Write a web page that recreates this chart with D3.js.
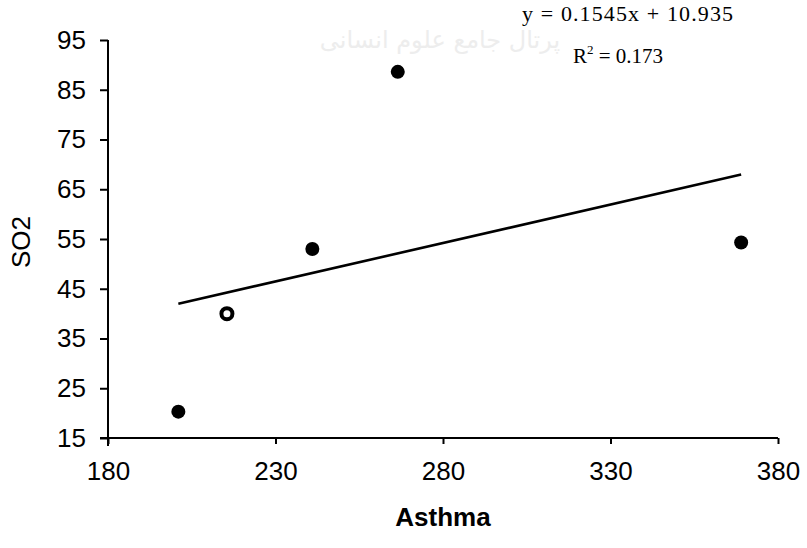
<!DOCTYPE html>
<html>
<head>
<meta charset="utf-8">
<script src="https://cdn.jsdelivr.net/npm/d3@7"></script>
<style>
  body { margin: 0; background: #fff; }
  svg { display: block; }
  .axis path, .axis line { stroke: #000; stroke-width: 2px; }
  .axis text { font-family: "Liberation Sans", Arial, sans-serif; font-size: 26px; fill: #000; }
</style>
</head>
<body>
<div id="chart"></div>
<script>
// values
var asthma = [201, 215.5, 241, 266.5, 369];
var so2    = [20.3, 40, 53, 88.6, 54.3];

var xTicks = [180, 230, 280, 330, 380];
var yTicks = [15, 25, 35, 45, 55, 65, 75, 85, 95];

// trend line as printed on the chart
var slope = 0.1545,
    intercept = 10.935,
    rSquared = "0.173";

var width = 807, height = 548;

var svg = d3.select("#chart").append("svg")
            .attr("width", width)
            .attr("height", height);

var xScale = d3.scaleLinear().domain([180, 380]).range([108, 778]);
var yScale = d3.scaleLinear().domain([15, 95]).range([438, 40]);

// faint watermark from the scanned page
svg.append("text")
   .attr("x", 440)
   .attr("y", 48)
   .attr("text-anchor", "middle")
   .attr("font-family", "DejaVu Sans")
   .attr("font-size", 24)
   .attr("fill", "#ededed")
   .attr("direction", "rtl")
   .text("پرتال جامع علوم انسانی");

var xAxis = d3.axisBottom(xScale)
              .tickValues(xTicks)
              .tickSize(6)
              .tickSizeOuter(0)
              .tickPadding(18)
              .tickFormat(d3.format("d"));
svg.append("g")
   .attr("class", "axis x-axis")
   .attr("transform", "translate(0," + yScale(15) + ")")
   .call(xAxis);

var yAxis = d3.axisLeft(yScale)
              .tickValues(yTicks)
              .tickSize(8)
              .tickSizeOuter(0)
              .tickPadding(14)
              .tickFormat(d3.format("d"));
svg.append("g")
   .attr("class", "axis y-axis")
   .attr("transform", "translate(" + xScale(180) + ",0)")
   .call(yAxis);

// let the axis lines run past each other at the origin, like the original
svg.select(".x-axis .domain").attr("d", "M" + (xScale(180) - 8) + ",0H" + xScale(380));
svg.select(".y-axis .domain").attr("d", "M0," + yScale(95) + "V" + (yScale(15) + 8));

// axis titles
svg.append("text")
   .attr("x", 443)
   .attr("y", 526)
   .attr("text-anchor", "middle")
   .attr("font-family", "Liberation Sans, Arial, sans-serif")
   .attr("font-size", 26)
   .attr("font-weight", "bold")
   .text("Asthma");

svg.append("text")
   .attr("transform", "translate(30,242) rotate(-90)")
   .attr("text-anchor", "middle")
   .attr("font-family", "Liberation Sans, Arial, sans-serif")
   .attr("font-size", 26)
   .text("SO2");

// trend line
var xMin = d3.min(asthma), xMax = d3.max(asthma);
svg.append("line")
   .attr("x1", xScale(xMin))
   .attr("y1", yScale(slope * xMin + intercept))
   .attr("x2", xScale(xMax))
   .attr("y2", yScale(slope * xMax + intercept))
   .attr("stroke", "#000")
   .attr("stroke-width", 2.6);

// points (the second one prints hollow in the scan)
var points = asthma.map(function(d, i) { return {x: d, y: so2[i], i: i}; });
svg.selectAll("circle.pt")
   .data(points)
   .enter().append("circle")
   .attr("class", "pt")
   .attr("cx", function(d) { return xScale(d.x); })
   .attr("cy", function(d) { return yScale(d.y); })
   .attr("r", function(d) { return d.i === 1 ? 5.5 : 7; })
   .attr("fill", function(d) { return d.i === 1 ? "#fff" : "#000"; })
   .attr("stroke", "#000")
   .attr("stroke-width", function(d) { return d.i === 1 ? 4 : 0; });

// equation label
var eq = svg.append("g")
            .attr("font-family", "Liberation Serif, Times New Roman, serif")
            .attr("fill", "#000");
eq.append("text")
  .attr("x", 522)
  .attr("y", 21)
  .attr("font-size", 22)
  .attr("textLength", 211)
  .attr("lengthAdjust", "spacing")
  .text("y = " + slope + "x + " + intercept);

var r2 = eq.append("text")
           .attr("x", 573)
           .attr("y", 63)
           .attr("font-size", 21);
r2.append("tspan").text("R");
r2.append("tspan").attr("dy", -9).attr("font-size", 13).text("2");
r2.append("tspan").attr("dy", 9).text(" = " + rSquared);
</script>
</body>
</html>
